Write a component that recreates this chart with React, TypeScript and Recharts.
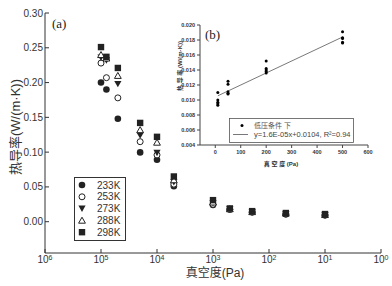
import React from "react";
import { ScatterChart, Scatter, XAxis, YAxis, Legend, ReferenceLine } from "recharts";

// pressure (Pa) for each column of the main chart
const PRESSURES = [100000, 80000, 50000, 20000, 10000, 5000, 1000, 500, 200, 50, 10];

// thermal conductivity W/(m·K), one list per temperature
const K233 = [0.2, 0.19, 0.148, 0.0996, 0.089, 0.051, 0.024, 0.0176, 0.0136, 0.0108, 0.0093];
const K253 = [0.228, 0.207, 0.178, 0.115, 0.096, 0.054, 0.025, 0.0177, 0.0138, 0.0109, 0.0095];
const K273 = [0.236, 0.232, 0.198, 0.124, 0.099, 0.057, 0.027, 0.0182, 0.014, 0.0111, 0.0097];
const K288 = [0.24, 0.235, 0.21, 0.132, 0.114, 0.06, 0.028, 0.0183, 0.0142, 0.0121, 0.01];
const K298 = [0.251, 0.237, 0.221, 0.142, 0.122, 0.065, 0.031, 0.0191, 0.0152, 0.0125, 0.011];

const X_TICKS = [1000000, 100000, 10000, 1000, 100, 10, 1];
const Y_TICKS = [0, 0.05, 0.1, 0.15, 0.2, 0.25, 0.3];

// inset (b)
const LOW_LIMIT = 500;
const INSET_X_TICKS = [0, 100, 200, 300, 400, 500, 600];
const INSET_Y_TICKS = [0.004, 0.006, 0.008, 0.01, 0.012, 0.014, 0.016, 0.018, 0.02];
const FIT_SLOPE = 1.6e-5;
const FIT_INTERCEPT = 0.0104;
const FIT_RANGE = [10, 500];

type Kind = "fcircle" | "ocircle" | "ftri" | "otri" | "square";

const SERIES: { name: string; kind: Kind; values: number[] }[] = [
  { name: "233K", kind: "fcircle", values: K233 },
  { name: "253K", kind: "ocircle", values: K253 },
  { name: "273K", kind: "ftri", values: K273 },
  { name: "288K", kind: "otri", values: K288 },
  { name: "298K", kind: "square", values: K298 },
];

const INK = "#222";
const SANS = "'Liberation Sans', Arial, 'Noto Sans CJK SC', sans-serif";

const Marker = ({ kind, cx, cy }: { kind: Kind; cx: number; cy: number }) => {
  switch (kind) {
    case "fcircle":
      return <circle cx={cx} cy={cy} r={3.3} fill={INK} />;
    case "ocircle":
      return <circle cx={cx} cy={cy} r={3} fill="#fff" stroke={INK} strokeWidth={1} />;
    case "ftri":
      return <path d={`M${cx - 3.6},${cy - 3} L${cx + 3.6},${cy - 3} L${cx},${cy + 3.4} Z`} fill={INK} />;
    case "otri":
      return (
        <path
          d={`M${cx - 3.4},${cy + 2.8} L${cx + 3.4},${cy + 2.8} L${cx},${cy - 3.2} Z`}
          fill="#fff"
          stroke={INK}
          strokeWidth={1}
        />
      );
    default:
      return <rect x={cx - 3.2} y={cy - 3.2} width={6.4} height={6.4} fill={INK} />;
  }
};

const PowerTick = (props: any) => {
  const { x, y, payload } = props;
  const exp = Math.round(Math.log10(payload.value));
  return (
    <text x={x} y={y} textAnchor="middle" fontSize={10} fill="#333" fontFamily={SANS}>
      <tspan dy="0.8em">10</tspan>
      <tspan dy="-0.45em" fontSize={7}>
        {exp}
      </tspan>
    </text>
  );
};

const MainLegend = () => (
  <svg width={52} height={64} style={{ display: "block" }}>
    <rect x={0.5} y={0.5} width={51} height={63} fill="#fff" stroke="#333" />
    {SERIES.map((s, i) => (
      <g key={s.name}>
        <Marker kind={s.kind} cx={8} cy={8 + i * 11.8} />
        <text x={23} y={8 + i * 11.8} dy="0.35em" fontSize={10} fill="#333" fontFamily={SANS}>
          {s.name}
        </text>
      </g>
    ))}
  </svg>
);

const InsetLegend = () => (
  <svg width={125} height={25} style={{ display: "block" }}>
    <rect x={0.5} y={0.5} width={124} height={24} fill="#fff" stroke="#555" strokeWidth={0.8} />
    <circle cx={13} cy={7.5} r={1.5} fill="#000" />
    <text x={25} y={7.5} dy="0.35em" fontSize={7} fill="#555" fontFamily={SANS}>
      低压条件 下
    </text>
    <line x1={4} x2={19} y1={16.5} y2={16.5} stroke="#555" strokeWidth={0.8} />
    <text x={25} y={16.5} dy="0.35em" fontSize={7.5} fill="#444" fontFamily={SANS}>
      y=1.6E-05x+0.0104, R²=0.94
    </text>
  </svg>
);

const insetPoints = SERIES.flatMap((s) =>
  PRESSURES.map((p, i) => ({ x: p, y: s.values[i] })).filter((d) => d.x <= LOW_LIMIT)
);

const Inset = () => (
  <ScatterChart width={200} height={160} margin={{ top: 11, right: 8, bottom: 0, left: 0 }}>
    <XAxis
      type="number"
      dataKey="x"
      domain={[-60, 600]}
      ticks={INSET_X_TICKS}
      interval={0}
      height={29}
      tickSize={3}
      tickMargin={2}
      stroke="#444"
      tick={{ fontSize: 5.5, fontWeight: "bold", fill: "#333", fontFamily: SANS }}
      allowDataOverflow
    />
    <YAxis
      type="number"
      dataKey="y"
      domain={[0.004, 0.02]}
      ticks={INSET_Y_TICKS}
      interval={0}
      width={24}
      tickSize={3}
      tickMargin={2}
      stroke="#444"
      tickFormatter={(v: number) => v.toFixed(3)}
      tick={{ fontSize: 5.5, fontWeight: "bold", fill: "#333", fontFamily: SANS }}
      allowDataOverflow
    />
    <XAxis xAxisId="top" orientation="top" type="number" domain={[0, 1]} height={0} tick={false} tickLine={false} stroke="#999" />
    <YAxis yAxisId="right" orientation="right" type="number" domain={[0, 1]} width={0} tick={false} tickLine={false} stroke="#999" />
    <ReferenceLine
      segment={FIT_RANGE.map((x) => ({ x, y: FIT_INTERCEPT + FIT_SLOPE * x }))}
      stroke="#555"
      strokeWidth={0.8}
    />
    <Scatter
      name="低压条件下"
      data={insetPoints}
      isAnimationActive={false}
      shape={(p: any) => <circle cx={p.cx} cy={p.cy} r={1.5} fill="#000" />}
    />
    <text x={29} y={20} dy="0.35em" fontSize={13} fontFamily="'Liberation Serif', serif" fill="#222">
      (b)
    </text>
    <text
      x={4}
      y={52}
      transform="rotate(-90 4 52)"
      textAnchor="middle"
      dy="0.35em"
      fontSize={6}
      fontWeight="bold"
      fill="#333"
      fontFamily={SANS}
    >
      热 导 率 (W/(m·K))
    </text>
    <text x={105} y={150} textAnchor="middle" dy="0.35em" fontSize={6} fontWeight="bold" fill="#333" fontFamily={SANS}>
      真 空 度 (Pa)
    </text>
    <Legend
      layout="vertical"
      align="center"
      verticalAlign="middle"
      wrapperStyle={{ left: 53, top: 104, width: 125, height: 25 }}
      content={() => <InsetLegend />}
    />
  </ScatterChart>
);

export default function App() {
  return (
    <div style={{ position: "absolute", left: 0, top: 0, width: 392, height: 286, background: "#fff" }}>
      <ScatterChart width={392} height={286} margin={{ top: 13, right: 11, bottom: 0, left: 0 }}>
        <XAxis
          type="number"
          dataKey="x"
          scale="log"
          domain={[1, 1000000]}
          reversed
          ticks={X_TICKS}
          interval={0}
          height={33}
          tickSize={-4}
          tickMargin={6}
          stroke="#333"
          tick={<PowerTick />}
          allowDataOverflow
        />
        <YAxis
          type="number"
          dataKey="y"
          domain={[-0.045, 0.3]}
          ticks={Y_TICKS}
          interval={0}
          width={45}
          tickSize={-4}
          tickMargin={6}
          stroke="#333"
          tickFormatter={(v: number) => v.toFixed(2)}
          tick={{ fontSize: 10, fill: "#333", fontFamily: SANS }}
          allowDataOverflow
        />
        <XAxis xAxisId="top" orientation="top" type="number" domain={[0, 1]} height={0} tick={false} tickLine={false} stroke="#333" />
        <YAxis yAxisId="right" orientation="right" type="number" domain={[0, 1]} width={0} tick={false} tickLine={false} stroke="#333" />
        {SERIES.map((s) => (
          <Scatter
            key={s.name}
            name={s.name}
            data={PRESSURES.map((p, i) => ({ x: p, y: s.values[i] }))}
            isAnimationActive={false}
            shape={(p: any) => <Marker kind={s.kind} cx={p.cx} cy={p.cy} />}
          />
        ))}
        <text x={52} y={23} dy="0.35em" fontSize={13} fontFamily="'Liberation Serif', serif" fill="#222">
          (a)
        </text>
        <text
          x={15}
          y={127}
          transform="rotate(-90 15 127)"
          textAnchor="middle"
          dy="0.35em"
          fontSize={13}
          fill="#333"
          fontFamily={SANS}
        >
          热导率(W/(m·K))
        </text>
        <text x={215} y={273} textAnchor="middle" dy="0.35em" fontSize={12} fill="#333" fontFamily={SANS}>
          真空度(Pa)
        </text>
        <Legend
          layout="vertical"
          align="center"
          verticalAlign="middle"
          wrapperStyle={{ left: 74, top: 177, width: 52, height: 64 }}
          content={() => <MainLegend />}
        />
      </ScatterChart>
      <div style={{ position: "absolute", left: 176, top: 14 }}>
        <Inset />
      </div>
    </div>
  );
}
